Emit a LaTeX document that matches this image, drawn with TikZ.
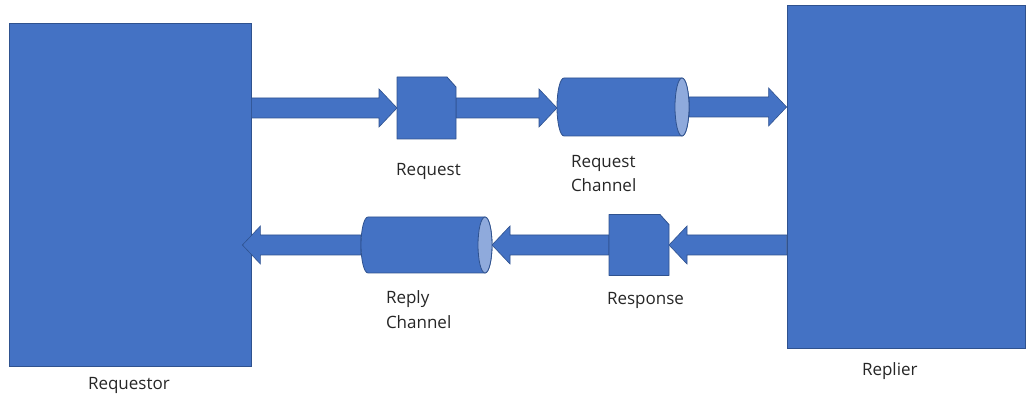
\documentclass[tikz,border=0pt]{standalone}
\usepackage{fontspec}
\setmainfont{Open Sans}
\usetikzlibrary{calc}
\definecolor{boxfill}{HTML}{4472C4}
\definecolor{boxline}{HTML}{2F528F}
\definecolor{endfill}{HTML}{8FAADC}
\tikzset{
  bigbox/.style={rectangle, fill=boxfill, draw=boxline, line width=0.8pt, inner sep=0pt},
  ghost/.style={rectangle, inner sep=0pt, outer sep=0pt},
  shapefill/.style={fill=boxfill, draw=boxline, line width=0.8pt, line join=round},
  endcap/.style={fill=endfill, draw=boxline, line width=0.8pt},
  blockarrow/.style={fill=boxfill, draw=boxline, line width=0.6pt, line join=miter},
  lbl/.style={inner sep=0pt, outer sep=0pt, align=left, font=\fontsize{17}{24.5}\selectfont, text=black!85}
}
\newcommand\fatarrow[2]{%
  \path[blockarrow] let \p1=(#1), \p2=(#2), \n1={ifthenelse(\x2>\x1,1,-1)} in
  (\x1,\y1+10pt) -- ({\x2-\n1*18pt},\y1+10pt) -- ({\x2-\n1*18pt},\y1+19pt) -- (\x2,\y1)
  -- ({\x2-\n1*18pt},\y1-19pt) -- ({\x2-\n1*18pt},\y1-10pt) -- (\x1,\y1-10pt) -- cycle;}
\begin{document}
\begin{tikzpicture}[x=1pt,y=1pt]
\useasboundingbox (0,0) rectangle (1026,396);
% main boxes
\node[bigbox, minimum width=242pt, minimum height=343pt] (req) at (130,201.5) {};
\node[bigbox, minimum width=238pt, minimum height=343pt] (rep) at (906,219.5) {};
% ghost frames for the small shapes
\node[ghost, minimum width=59pt, minimum height=62pt] (reqdoc) at (426.5,288) {};
\node[ghost, minimum width=132pt, minimum height=58pt] (cylA) at (623,289) {};
\node[ghost, minimum width=60pt, minimum height=61pt] (respdoc) at (639,151) {};
\node[ghost, minimum width=131pt, minimum height=56pt] (cylB) at (426.5,151) {};
% block arrows
\fatarrow{req.east |- reqdoc.west}{reqdoc.west}
\fatarrow{reqdoc.east}{cylA.west |- reqdoc.east}
\fatarrow{cylA.east}{rep.west |- cylA.east}
\fatarrow{rep.west |- respdoc.east}{respdoc.east}
\fatarrow{respdoc.west}{cylB.east |- respdoc.west}
\coordinate (tipB) at ($(req.east |- cylB.west)+(-9,0)$);
\fatarrow{cylB.west}{tipB}
% documents
\draw[shapefill] (reqdoc.south west) -- (reqdoc.north west) -- ([xshift=-9pt]reqdoc.north east)
  -- ([yshift=-10pt]reqdoc.north east) -- (reqdoc.south east) -- cycle;
\draw[shapefill] (respdoc.south west) -- (respdoc.north west) -- ([xshift=-9pt]respdoc.north east)
  -- ([yshift=-10pt]respdoc.north east) -- (respdoc.south east) -- cycle;
% cylinders
\draw[shapefill] ([xshift=7pt]cylA.north west) arc[start angle=90,end angle=270,x radius=7pt,y radius=29pt]
  -- ([xshift=-7pt]cylA.south east) arc[start angle=-90,end angle=90,x radius=7pt,y radius=29pt] -- cycle;
\draw[endcap] ([xshift=-7pt]cylA.east) ellipse[x radius=7pt,y radius=29pt];
\draw[shapefill] ([xshift=7pt]cylB.north west) arc[start angle=90,end angle=270,x radius=7pt,y radius=28pt]
  -- ([xshift=-7pt]cylB.south east) arc[start angle=-90,end angle=90,x radius=7pt,y radius=28pt] -- cycle;
\draw[endcap] ([xshift=-7pt]cylB.east) ellipse[x radius=7pt,y radius=28pt];
% labels
\node[lbl, anchor=north] (lreq) at (428.5,233) {Request};
\node[lbl, anchor=north west] (lreqch) at (571,241) {Request\\Channel};
\node[lbl, anchor=north west] (lrepch) at (386,105) {Reply\\Channel};
\node[lbl, anchor=north west] (lresp) at (607,104) {Response};
\node[lbl, anchor=north west] (lrequestor) at (88,19) {Requestor};
\node[lbl, anchor=north west] (lreplier) at (862,33) {Replier};
\end{tikzpicture}
\end{document}
